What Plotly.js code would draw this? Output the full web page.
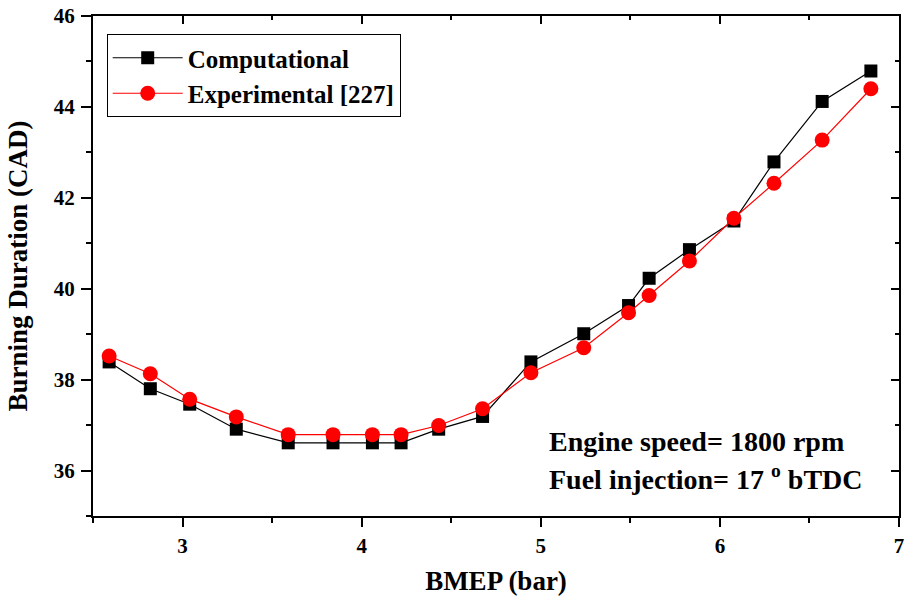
<!DOCTYPE html>
<html>
<head>
<meta charset="utf-8">
<script src="https://cdn.plot.ly/plotly-3.0.1.min.js"></script>
<style>html,body{margin:0;padding:0;background:#fff;}#chart{width:906px;height:596px;}</style>
</head>
<body>
<div id="chart"></div>
<script>
const bmep = [2.59, 2.82, 3.04, 3.30, 3.59, 3.84, 4.06, 4.22, 4.43, 4.675, 4.945, 5.24, 5.49, 5.605, 5.83, 6.078, 6.302, 6.571, 6.843];
const computational = [38.39, 37.80, 37.46, 36.91, 36.61, 36.61, 36.61, 36.61, 36.91, 37.19, 38.39, 39.01, 39.63, 40.23, 40.86, 41.49, 42.79, 44.12, 44.79];
const experimental = [38.52, 38.13, 37.57, 37.18, 36.79, 36.79, 36.79, 36.79, 36.99, 37.36, 38.15, 38.70, 39.47, 39.85, 40.61, 41.55, 42.32, 43.27, 44.40];
const seriesNames = ["Computational", "Experimental [227]"];
const xTitle = "BMEP (bar)";
const yTitle = "Burning Duration (CAD)";
const note1 = "Engine speed= 1800 rpm";
const note2 = "Fuel injection= 17 <sup>o</sup> bTDC";

const F = "Liberation Serif, Times New Roman, serif";
const traces = [
  {x: bmep, y: computational, name: seriesNames[0], type: "scatter", mode: "lines+markers",
   line: {color: "#000000", width: 1.2}, marker: {symbol: "square", size: 13, color: "#000000"}},
  {x: bmep, y: experimental, name: seriesNames[1], type: "scatter", mode: "lines+markers",
   line: {color: "#ff0000", width: 1.2}, marker: {symbol: "circle", size: 15, color: "#ff0000"}}
];
const axBase = {showgrid: false, zeroline: false, showline: true, linecolor: "#000", linewidth: 2,
  tickcolor: "#000", tickwidth: 2};
const layout = {
  width: 906, height: 596,
  margin: {l: 93, r: 7, t: 16, b: 80},
  paper_bgcolor: "#fff", plot_bgcolor: "#fff",
  showlegend: true,
  legend: {x: 0.017, y: 0.964, xanchor: "left", yanchor: "top", bordercolor: "#000", borderwidth: 1,
    bgcolor: "#fff", font: {family: F, size: 25, weight: "bold", color: "#000"}, tracegroupgap: 0, itemwidth: 70},
  xaxis: Object.assign({}, axBase, {range: [2.5, 7], tickmode: "linear", tick0: 3, dtick: 1, ticks: "outside", ticklen: 9,
    ticklabelstandoff: 1,
    minor: {dtick: 0.5, tick0: 2.5, ticks: "outside", ticklen: 5, tickwidth: 2, tickcolor: "#000"},
    tickfont: {family: F, size: 21, weight: "bold", color: "#000"},
    title: {text: xTitle, font: {family: F, size: 27, weight: "bold", color: "#000"}, standoff: 14}}),
  yaxis: Object.assign({}, axBase, {range: [35, 46], tickmode: "linear", tick0: 36, dtick: 2, ticks: "outside", ticklen: 10,
    ticklabelstandoff: 2,
    minor: {dtick: 1, tick0: 35, ticks: "outside", ticklen: 5, tickwidth: 2, tickcolor: "#000"},
    tickfont: {family: F, size: 21, weight: "bold", color: "#000"},
    title: {text: yTitle, font: {family: F, size: 27, weight: "bold", color: "#000"}, standoff: 18}}),
  xaxis2: Object.assign({}, axBase, {overlaying: "x", side: "top", range: [2.5, 7], tickmode: "linear", tick0: 3, dtick: 1,
    ticks: "inside", ticklen: 8, showticklabels: false,
    minor: {dtick: 0.5, tick0: 2.5, ticks: "inside", ticklen: 4, tickwidth: 2, tickcolor: "#000"}}),
  yaxis2: Object.assign({}, axBase, {overlaying: "y", side: "right", range: [35, 46], tickmode: "linear", tick0: 36, dtick: 2,
    ticks: "inside", ticklen: 8, showticklabels: false,
    minor: {dtick: 1, tick0: 35, ticks: "inside", ticklen: 4, tickwidth: 2, tickcolor: "#000"}}),
  annotations: [
    {xref: "paper", yref: "paper", x: 0.563, y: 0.15, xanchor: "left", yanchor: "middle", showarrow: false,
     text: note1, font: {family: F, size: 28, weight: "bold", color: "#000"}},
    {xref: "paper", yref: "paper", x: 0.563, y: 0.078, xanchor: "left", yanchor: "middle", showarrow: false,
     text: note2, font: {family: F, size: 28, weight: "bold", color: "#000"}}
  ]
};
traces.push({x: [2.5], y: [35], xaxis: "x2", yaxis: "y2", mode: "markers", marker: {opacity: 0}, showlegend: false, hoverinfo: "skip"});
Plotly.newPlot("chart", traces, layout, {displayModeBar: false, staticPlot: true});
</script>
</body>
</html>
